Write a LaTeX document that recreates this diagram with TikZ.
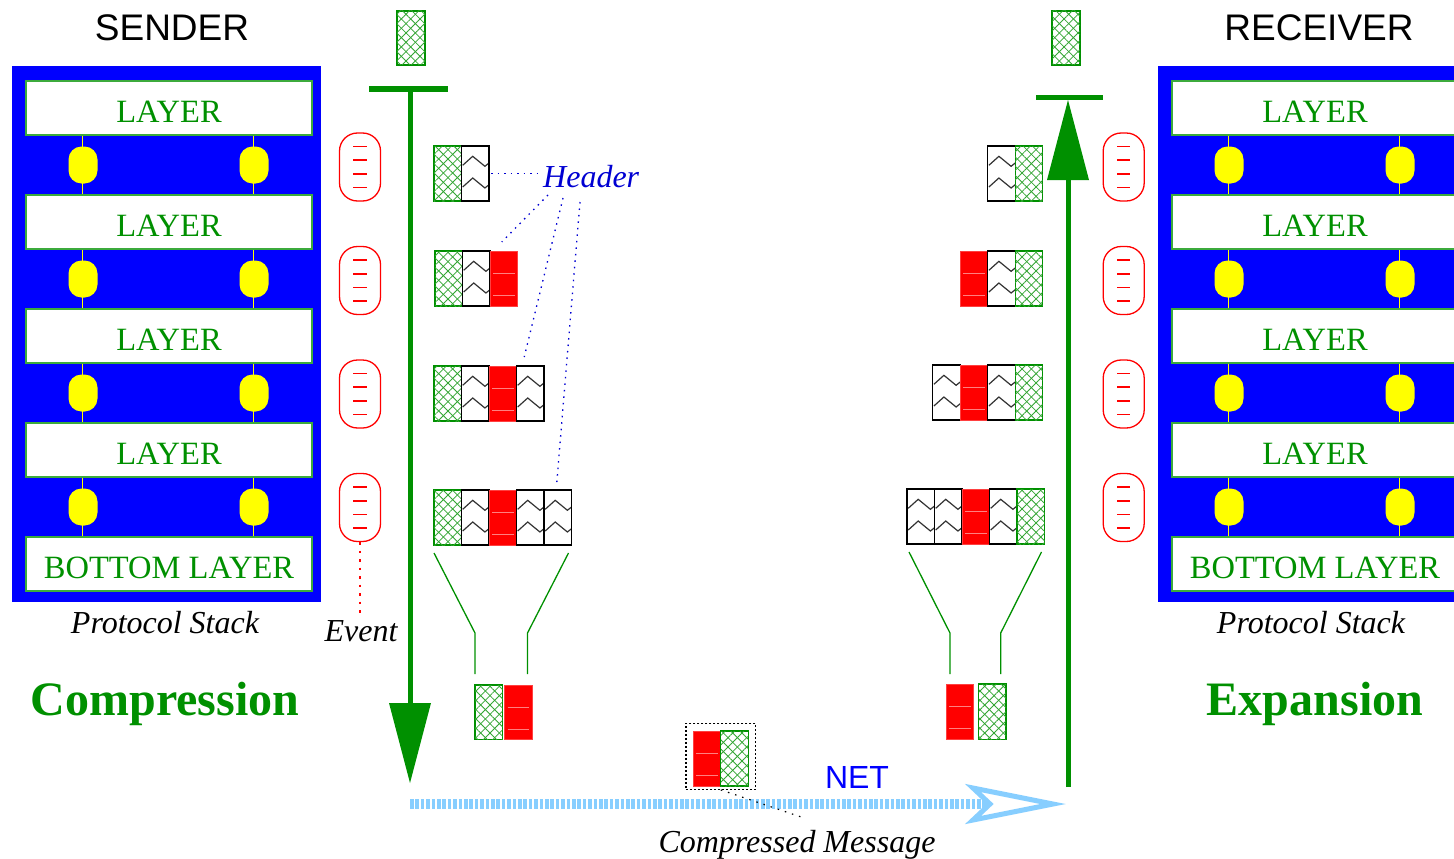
\documentclass[tikz,border=0pt]{standalone}
\usepackage{fontspec}
\setmainfont{Liberation Serif}
\setsansfont{Liberation Sans}
\usetikzlibrary{arrows.meta,patterns.meta,calc}

\definecolor{xgreen}{RGB}{0,144,0}
\definecolor{hatchgreen}{RGB}{50,165,50}
\definecolor{layeredge}{RGB}{60,170,60}
\definecolor{xblue}{RGB}{0,0,255}
\definecolor{hdrblue}{RGB}{0,0,210}
\definecolor{ltblue}{RGB}{135,206,255}
\definecolor{xyellow}{RGB}{255,255,0}
\definecolor{xred}{RGB}{255,0,0}

\newcommand\setfs[1]{\fontsize{#1pt}{#1pt}\selectfont}

\tikzset{
  cellbase/.style={rectangle, inner sep=0pt, outer sep=0pt,
    minimum width=27.5pt, minimum height=55pt, anchor=north west},
  % data part: green cross-hatched block
  hcell/.style={cellbase, fill=white, draw=xgreen, line width=1.2pt,
    postaction={pattern={Lines[angle=45,distance=6.6pt,line width=0.8pt]}, pattern color=hatchgreen},
    postaction={pattern={Lines[angle=-45,distance=6.6pt,line width=0.8pt]}, pattern color=hatchgreen}},
  zigline/.style={draw=black!80, line width=1.2pt},
  % header block with two zigzags
  zcell/.style={cellbase, fill=white, draw=black, line width=1.3pt,
    path picture={
      \foreach \dy in {0,21.7}{
        \draw[zigline] ($(path picture bounding box.north west)+(1.2,19.3+\dy)$)
          -- ++(10,-9) -- ++(12.2,10) -- ++(5,-4);
      }}},
  % compressed header block
  rcell/.style={cellbase, fill=xred, draw=xred!75!white, line width=0.6pt,
    path picture={
      \foreach \dy in {22,44}{
        \draw[line width=0.7pt, xred!50!white]
          ($(path picture bounding box.north west)+(3,\dy)$) -- ++(21.5,0);
      }}},
  evcap/.style={rectangle, rounded corners=18pt, draw=xred, line width=1.3pt, fill=white,
    minimum width=41pt, minimum height=68pt, inner sep=0pt,
    path picture={
      \foreach \dy in {-20.5,-6.8,6.8,20.5}{
        \draw[draw=xred, line width=1.6pt]
          ($(path picture bounding box.center)+(-6.7,\dy)$) -- ++(13.4,0);
      }}},
  stackbg/.style={rectangle, fill=xblue, inner sep=0pt, minimum width=309pt, minimum height=536pt},
  layerbox/.style={rectangle, fill=white, draw=layeredge, line width=1.5pt, inner sep=0pt,
    minimum width=286pt, minimum height=54pt, text=xgreen, font=\setfs{32.5},
    text height=28pt, text depth=0pt},
  oval/.style={rectangle, rounded corners=13pt, fill=xyellow, inner sep=0pt,
    minimum width=29pt, minimum height=37pt},
  yline/.style={draw=xyellow, line width=1.5pt},
  lbl/.style={inner sep=0pt, anchor=base},
  greenbar/.style={draw=xgreen, line width=5pt},
  bigarrow/.style={draw=xgreen, line width=5pt,
    -{Triangle[length=80pt,width=42pt,line width=0pt]}},
  hdrline/.style={draw=hdrblue, line width=1.3pt, dash pattern=on 1.5pt off 5pt},
  evline/.style={draw=xred, line width=1.2pt, dash pattern=on 2.5pt off 6pt},
  cmline/.style={draw=black, line width=1.2pt, dash pattern=on 1.5pt off 6pt},
  funnel/.style={draw=xgreen, line width=1.3pt},
  netline/.style={draw=ltblue, line width=10pt, dash pattern=on 3.6pt off 1.8pt},
  nethead/.style={draw=ltblue, fill=white, line width=5pt, line join=miter},
}

% one protocol stack: blue frame, five layers, yellow links between them
\newcommand\stackdraw[2]{%
  \begin{scope}[xshift=#1pt]
    \node[stackbg] (#2bg) at (166.5,334) {};
    \foreach \i/\lname in {1/LAYER,2/LAYER,3/LAYER,4/LAYER,5/BOTTOM LAYER}
      \node[layerbox] (#2L\i) at (169,{108+114*(\i-1)}) {\lname};
    \foreach \i [evaluate=\i as \j using int(\i+1)] in {1,...,4}{
      \draw[yline] ([xshift=57pt]#2L\i.south west) -- ([xshift=57pt]#2L\j.north west);
      \draw[yline] ([xshift=228pt]#2L\i.south west) -- ([xshift=228pt]#2L\j.north west);
      \node[oval] (#2a\i) at (83,{165+114*(\i-1)}) {};
      \node[oval] (#2b\i) at (254,{165+114*(\i-1)}) {};
    }
  \end{scope}}

\begin{document}
\begin{tikzpicture}[x=1pt,y=-1pt]
\useasboundingbox (0,0) rectangle (1454,859);

% ---------- protocol stacks ----------
\stackdraw{0}{S}
\begin{scope}
  \clip (0,0) rectangle (1454,859);
  \stackdraw{1146}{R}
\end{scope}

\node[lbl, font=\sffamily\setfs{37}] (sender) at (172,41) {SENDER};
\node[lbl, font=\sffamily\setfs{37}] (receiver) at (1319,41) {RECEIVER};
\node[lbl, font=\itshape\setfs{32}] (psS) at (165,633) {Protocol Stack};
\node[lbl, font=\itshape\setfs{32}] (psR) at (1311,633) {Protocol Stack};
\node[lbl, font=\bfseries\setfs{48}, text=xgreen] (comp) at (165,715) {Compression};
\node[lbl, font=\bfseries\setfs{48}, text=xgreen] (expn) at (1315,715) {Expansion};

% ---------- events ----------
\foreach \i/\yy in {1/167,2/280.5,3/394,4/507.5}{
  \node[evcap] (evS\i) at (360,\yy) {};
  \node[evcap] (evR\i) at (1123.7,\yy) {};
}
\node[lbl, font=\itshape\setfs{32}] (evtxt) at (361,641) {Event};
\draw[evline] (evS4.south) -- ([yshift=3pt]evS4.south |- evtxt.north);

% ---------- sender: vertical flow ----------
\node[hcell, minimum width=28pt, minimum height=54pt] (hT) at (397,11) {};
\coordinate (lbarL) at (369,89);
\coordinate (lbarR) at (448,89);
\coordinate (ltop) at (410,89);
\coordinate (ltip) at (410,783);
\draw[greenbar] (lbarL) -- (lbarR);
\draw[bigarrow] (ltop) -- (ltip);

% messages growing on the way down
\node[hcell] (hS1a) at (434,146) {};
\node[zcell] (zS1b) at (461.5,146) {};

\node[hcell] (hS2a) at (435,251) {};
\node[zcell] (zS2b) at (462.5,251) {};
\node[rcell] (rS2c) at (490,251) {};

\node[hcell] (hS3a) at (434,366) {};
\node[zcell] (zS3b) at (461.5,366) {};
\node[rcell] (rS3c) at (489,366) {};
\node[zcell] (zS3d) at (516.5,366) {};

\node[hcell] (hS4a) at (434,490) {};
\node[zcell] (zS4b) at (461.5,490) {};
\node[rcell] (rS4c) at (489,490) {};
\node[zcell] (zS4d) at (516.5,490) {};
\node[zcell] (zS4e) at (544,490) {};

% compressed form on the sender side
\node[hcell, minimum height=54.5pt] (hSB) at (475,685) {};
\node[rcell, minimum height=54.5pt] (rSB) at (504.5,685) {};
\draw[funnel] ([yshift=-8pt]hS4a.south west) -- ($(hSB.north west)+(0,-52)$) -- ($(hSB.north west)+(0,-11)$);
\draw[funnel] ([xshift=-3pt,yshift=-8pt]zS4e.south east) -- ($(rSB.north east)+(-4.5,-52)$) -- ($(rSB.north east)+(-4.5,-11)$);

% header annotations
\node[lbl, anchor=base west, font=\itshape\setfs{32}, text=hdrblue] (hdr) at (543,187) {Header};
\draw[hdrline] ([xshift=2pt]zS1b.east) -- (hdr.west |- zS1b.east);
\draw[hdrline] ($(hdr.base west)+(5,8)$) -- ([xshift=-2pt,yshift=9pt]rS2c.north);
\draw[hdrline] ($(hdr.base west)+(20,11)$) -- ([xshift=-6pt,yshift=9pt]zS3d.north);
\draw[hdrline] ($(hdr.base west)+(37,15)$) -- ([xshift=-1pt,yshift=7pt]zS4e.north);

% ---------- receiver: vertical flow ----------
\node[hcell, minimum width=28pt, minimum height=54pt] (hTR) at (1052,11) {};
\coordinate (rbarL) at (1036,97.5);
\coordinate (rbarR) at (1103,97.5);
\coordinate (rbot) at (1068,787);
\coordinate (rtip) at (1068,100);
\draw[greenbar] (rbarL) -- (rbarR);
\draw[bigarrow] (rbot) -- (rtip);

\node[zcell] (zR1a) at (987.7,146) {};
\node[hcell] (hR1b) at (1015.2,146) {};

\node[rcell] (rR2a) at (960.2,251) {};
\node[zcell] (zR2b) at (987.7,251) {};
\node[hcell] (hR2c) at (1015.2,251) {};

\node[zcell] (zR3a) at (932.7,365) {};
\node[rcell] (rR3b) at (960.2,365) {};
\node[zcell] (zR3c) at (987.7,365) {};
\node[hcell] (hR3d) at (1015.2,365) {};

\node[zcell] (zR4a) at (907,489) {};
\node[zcell] (zR4b) at (934.5,489) {};
\node[rcell] (rR4c) at (962,489) {};
\node[zcell] (zR4d) at (989.5,489) {};
\node[hcell] (hR4e) at (1017,489) {};

\node[rcell, minimum height=55.5pt] (rRB) at (946,684) {};
\node[hcell, minimum height=55.5pt] (hRB) at (978.5,684) {};
\draw[funnel] ([xshift=2pt,yshift=-8pt]zR4a.south west) -- ($(rRB.north west)+(4,-51)$) -- ($(rRB.north west)+(4,-10)$);
\draw[funnel] ([xshift=-3pt,yshift=-8pt]hR4e.south east) -- ($(hRB.north east)+(-5.3,-51)$) -- ($(hRB.north east)+(-5.3,-10)$);

% ---------- network ----------
\coordinate (netS) at (410,804);
\coordinate (netE) at (989,804);
\draw[netline] (netS) -- (netE);
\coordinate (nhA) at (973,788);
\coordinate (nhTip) at (1053,804);
\coordinate (nhB) at (973,820);
\coordinate (nhN) at (990,804);
\draw[nethead] (nhA) -- (nhTip) -- (nhB) -- (nhN) -- cycle;
\node[lbl, font=\sffamily\setfs{32}, text=xblue] (net) at (857,788) {NET};

% message in transit
\node[rcell] (rC) at (693.3,731) {};
\node[hcell] (hC) at (720.8,731) {};
\node[rectangle, draw=black, line width=1.2pt, dash pattern=on 2pt off 2pt,
      minimum width=69.7pt, minimum height=66pt, inner sep=0pt] (cmbox) at (720.8,756.3) {};
\node[lbl, font=\itshape\setfs{32}] (cmtext) at (797,852) {Compressed Message};
\draw[cmline] (cmbox.south) -- ([xshift=6pt,yshift=12pt]cmtext.north);

\end{tikzpicture}
\end{document}
